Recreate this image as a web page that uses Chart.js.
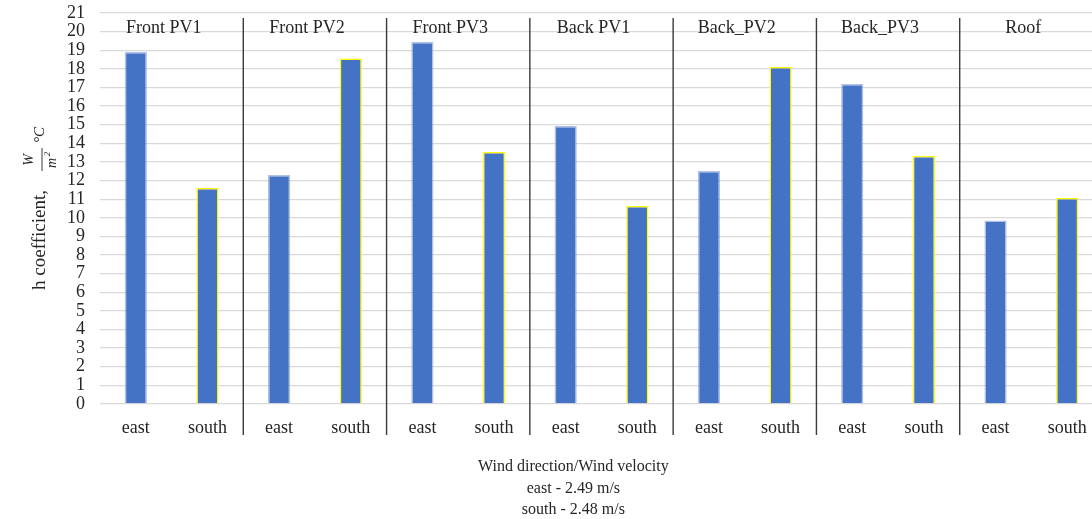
<!DOCTYPE html>
<html>
<head>
<meta charset="utf-8">
<script src="https://cdn.jsdelivr.net/npm/chart.js@4/dist/chart.umd.min.js"></script>
<style>
  html, body { margin: 0; padding: 0; background: #fff; overflow: hidden; }
  #wrap { position: relative; width: 1104px; height: 519px; }
</style>
</head>
<body>
<div id="wrap"><canvas id="c"></canvas></div>
<script>
// panels along the x axis, two wind directions inside each
const groups = ["Front PV1", "Front PV2", "Front PV3", "Back PV1", "Back_PV2", "Back_PV3", "Roof"];
const directions = ["east", "south"];
const eastValues = [18.9, 12.3, 19.44, 14.93, 12.51, 17.19, 9.85];
const southValues = [11.6, 18.55, 13.53, 10.63, 18.1, 13.32, 11.06];
const yTicks = { min: 0, max: 21, step: 1 };
const xTitleLines = ["Wind direction/Wind velocity", "east - 2.49 m/s", "south - 2.48 m/s"];

const labels = [];
const values = [];
const borders = [];
groups.forEach(function (g, i) {
  labels.push(directions[0]); values.push(eastValues[i]); borders.push("rgba(120,150,210,0.6)");
  labels.push(directions[1]); values.push(southValues[i]); borders.push("#FFFF00");
});

const serif = "'Liberation Serif', 'Times New Roman', serif";
const ink = "#262626";

// group separators, group names, y title and x title
const decor = {
  id: "decor",
  afterDraw: function (chart) {
    const ctx = chart.ctx;
    const x = chart.scales.x;
    const area = chart.chartArea;
    const half = (x.getPixelForValue(1) - x.getPixelForValue(0)) / 2;
    ctx.save();
    ctx.strokeStyle = "#3a3a3a";
    ctx.lineWidth = 1.4;
    for (let i = 1; i < groups.length; i++) {
      const px = x.getPixelForValue(i * 2) - half;
      ctx.beginPath();
      ctx.moveTo(px, area.top + 5);
      ctx.lineTo(px, area.bottom + 31);
      ctx.stroke();
    }
    ctx.fillStyle = ink;
    ctx.font = "18px " + serif;
    ctx.textAlign = "center";
    ctx.textBaseline = "middle";
    groups.forEach(function (g, i) {
      const cx = (x.getPixelForValue(i * 2) + x.getPixelForValue(i * 2 + 1)) / 2 - 8;
      ctx.fillText(g, cx, area.top + 15);
    });

    // x title, three lines
    ctx.font = "16px " + serif;
    const tx = area.left + (area.right - area.left) * 0.472;
    xTitleLines.forEach(function (t, i) {
      ctx.fillText(t, tx, area.bottom + 63 + i * 21.5);
    });

    // y title, rotated, with W / m² fraction and °C
    ctx.translate(40, 240);
    ctx.rotate(-Math.PI / 2);
    ctx.font = "19px " + serif;
    ctx.fillText("h coefficient,", 0, 0);
    ctx.font = "italic 14px " + serif;
    ctx.fillText("W", 80, -11);
    ctx.fillText("m", 77, 12);
    ctx.font = "italic 9px " + serif;
    ctx.fillText("2", 86, 8);
    ctx.beginPath();
    ctx.lineWidth = 1;
    ctx.moveTo(69, 2);
    ctx.lineTo(92, 2);
    ctx.stroke();
    ctx.font = "italic 15px " + serif;
    ctx.fillText("°C", 105, 0);
    ctx.restore();
  }
};

new Chart(document.getElementById("c"), {
  type: "bar",
  data: {
    labels: labels,
    datasets: [{
      data: values,
      backgroundColor: "#4472C4",
      borderColor: borders,
      borderWidth: 1.5,
      barPercentage: 0.31,
      categoryPercentage: 1.0
    }]
  },
  options: {
    responsive: true,
    maintainAspectRatio: false,
    animation: false,
    layout: { padding: { top: 13, right: 1, left: 0, bottom: 0 } },
    plugins: { legend: { display: false }, tooltip: { enabled: false } },
    scales: {
      x: {
        grid: { display: false },
        border: { display: false },
        ticks: { color: ink, font: { family: serif, size: 18 }, padding: 5, maxRotation: 0, autoSkip: false },
        afterFit: function (s) { s.height = 115; }
      },
      y: {
        min: yTicks.min,
        max: yTicks.max,
        grid: { color: "#d9d9d9", lineWidth: 1.3, drawTicks: false },
        border: { display: false },
        ticks: { stepSize: yTicks.step, autoSkip: false, color: ink, font: { family: serif, size: 18 }, padding: 15 },
        afterFit: function (s) { s.width = 100; s.paddingTop = 0; s.paddingBottom = 0; }
      }
    }
  },
  plugins: [decor]
});
</script>
</body>
</html>
